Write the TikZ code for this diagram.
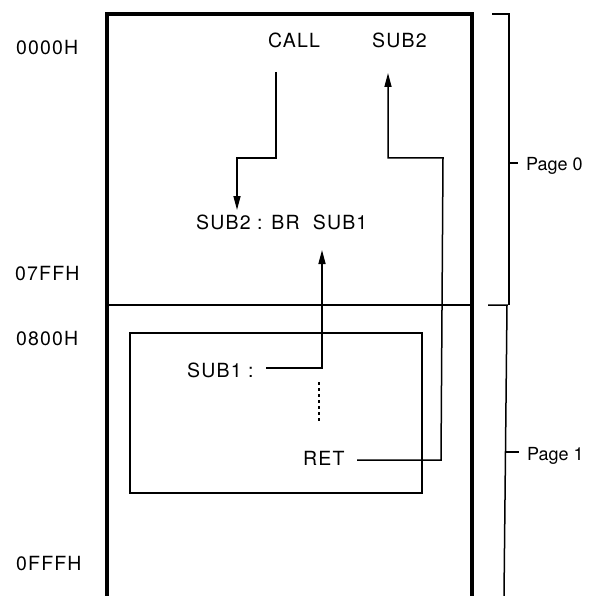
\documentclass[tikz,border=0pt]{standalone}
\usepackage{fontspec}
\setmainfont{TeX Gyre Heros}
\usetikzlibrary{arrows.meta}
\tikzset{
  lbl/.style={anchor=base west,inner sep=0pt,font=\fontsize{19.5}{22}\selectfont\addfontfeatures{LetterSpace=6}},
  pglbl/.style={anchor=base west,inner sep=0pt,font=\fontsize{18}{20}\selectfont},
  thin/.style={line width=1.5pt},
  thick/.style={line width=3.4pt},
  arr/.style={thin,-{Triangle[length=14pt,width=7pt]}},
}
\begin{document}
\begin{tikzpicture}[x=1pt,y=-1pt]
\useasboundingbox (0,0) rectangle (591,596);
% address labels
\node[lbl] (a0) at (16,55) {0000H};
\node[lbl] (a1) at (15,280) {07FFH};
\node[lbl] (a2) at (16,345) {0800H};
\node[lbl] (a3) at (16,570) {0FFFH};
% memory box
\draw[thick] (107,596) -- (107,14) -- (472,14) -- (472,596);
\draw[thin] (107,305) -- (472,305);
\draw[thin] (130,333) rectangle (422,493);
% code texts
\node[lbl] (call) at (268,48) {CALL};
\node[lbl] (sub2) at (372,48) {SUB2};
\node[lbl] (br) at (196,229) {SUB2 : BR\ \ SUB1};
\node[lbl] (sub1) at (187,377) {SUB1 :};
\node[lbl] (ret) at (303,465) {RET};
% connectors
\coordinate (c1) at (276,72);
\coordinate (c2) at (237,158);
\coordinate (c3) at (237,210);
\draw[arr] (c1) |- (c2) -- (c3);
\coordinate (r1) at (357,460);
\coordinate (r2) at (441,460);
\coordinate (r3) at (443,158);
\coordinate (r4) at (388,158);
\coordinate (r5) at (388,73);
\draw[arr] (r1) -- (r2) -- (r3) -- (r4) -- (r5);
\coordinate (s1) at (266,368);
\coordinate (s2) at (322,368);
\coordinate (s3) at (322,250);
\draw[arr] (s1) -- (s2) -- (s3);
\coordinate (d1) at (319,382);
\coordinate (d2) at (319,422);
\draw[thin,dash pattern=on 3pt off 3pt] (d1) -- (d2);
% page brackets
\coordinate (p0a) at (492,14);
\coordinate (p0b) at (509,14);
\coordinate (p0c) at (509,305);
\coordinate (p0t) at (509,163);
\coordinate (p0e) at (518,163);
\draw[thin] (p0a) -- (p0b) -- (p0c);
\draw[thin] (p0t) -- (p0e);
\node[pglbl] (pg0) at (526,170) {Page 0};
\coordinate (p1a) at (488,305);
\coordinate (p1b) at (507,305);
\coordinate (p1c) at (504,596);
\coordinate (p1t) at (506,452);
\coordinate (p1e) at (519,452);
\draw[thin] (p1a) -- (p1b) -- (p1c);
\draw[thin] (p1t) -- (p1e);
\node[pglbl] (pg1) at (527,460) {Page 1};
\end{tikzpicture}
\end{document}
